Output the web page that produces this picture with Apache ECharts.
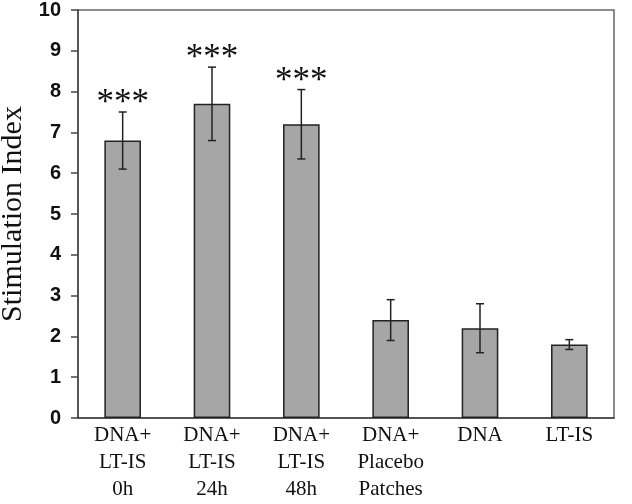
<!DOCTYPE html>
<html>
<head>
<meta charset="utf-8">
<script src="https://cdn.jsdelivr.net/npm/echarts@6/dist/echarts.min.js"></script>
<style>
  html, body {margin: 0; padding: 0; background: #fff;}
  #chart {width: 632px; height: 504px;}
</style>
</head>
<body>
<div id="chart"></div>
<script>
// categories and values
const categories = ['DNA+\nLT-IS\n0h', 'DNA+\nLT-IS\n24h', 'DNA+\nLT-IS\n48h', 'DNA+\nPlacebo\nPatches', 'DNA', 'LT-IS'];
const means = [6.8, 7.7, 7.2, 2.4, 2.2, 1.8];
const errors = [0.7, 0.9, 0.85, 0.5, 0.6, 0.12];
const sigLabels = ['***', '***', '***', '', '', ''];

const serif = '"Liberation Serif", "Times New Roman", serif';
const ink = '#111';

const myChart = echarts.init(document.getElementById('chart'));

myChart.setOption({
  backgroundColor: '#fff',
  animation: false,
  grid: {
    left: 78, right: 18, top: 10, bottom: 86,
    containLabel: false,
    outerBoundsMode: 'none',
    show: true,
    borderColor: '#666',
    borderWidth: 1.5
  },
  xAxis: {
    type: 'category',
    data: categories,
    axisLine: {lineStyle: {color: '#444', width: 1.5}},
    axisTick: {show: false},
    axisLabel: {
      interval: 0,
      margin: 4,
      color: ink,
      fontFamily: serif,
      fontSize: 21,
      lineHeight: 27
    }
  },
  yAxis: {
    type: 'value',
    min: 0, max: 10, interval: 1,
    name: 'Stimulation Index',
    nameLocation: 'middle',
    nameGap: 47,
    nameTextStyle: {fontFamily: serif, fontSize: 30, color: ink},
    splitLine: {show: false},
    axisLine: {show: true, lineStyle: {color: '#444', width: 1.5}},
    axisTick: {show: true, length: 7, lineStyle: {color: '#444', width: 1.5}},
    axisLabel: {
      margin: 17,
      color: ink,
      fontFamily: 'Arial, "Liberation Sans", sans-serif',
      fontWeight: 'bold',
      fontSize: 20
    }
  },
  series: [
    {
      type: 'bar',
      data: means,
      barWidth: '41%',
      itemStyle: {color: '#a6a6a6', borderColor: '#222', borderWidth: 1.5}
    },
    {
      type: 'custom',
      data: means.map((m, i) => [i, m - errors[i], m + errors[i]]),
      z: 5,
      renderItem(params, api) {
        const i = api.value(0);
        const lo = api.coord([i, api.value(1)]);
        const hi = api.coord([i, api.value(2)]);
        const cap = 4;
        const style = {stroke: '#222', lineWidth: 1.5};
        const children = [
          {type: 'line', shape: {x1: hi[0], y1: hi[1], x2: lo[0], y2: lo[1]}, style},
          {type: 'line', shape: {x1: hi[0] - cap, y1: hi[1], x2: hi[0] + cap, y2: hi[1]}, style},
          {type: 'line', shape: {x1: lo[0] - cap, y1: lo[1], x2: lo[0] + cap, y2: lo[1]}, style}
        ];
        const sig = sigLabels[params.dataIndex];
        if (sig) {
          children.push({
            type: 'text',
            style: {
              text: sig, x: hi[0], y: hi[1] - 8,
              align: 'center', verticalAlign: 'middle',
              fontFamily: serif, fontSize: 35, fill: ink
            }
          });
        }
        return {type: 'group', children};
      }
    }
  ]
});
</script>
</body>
</html>
